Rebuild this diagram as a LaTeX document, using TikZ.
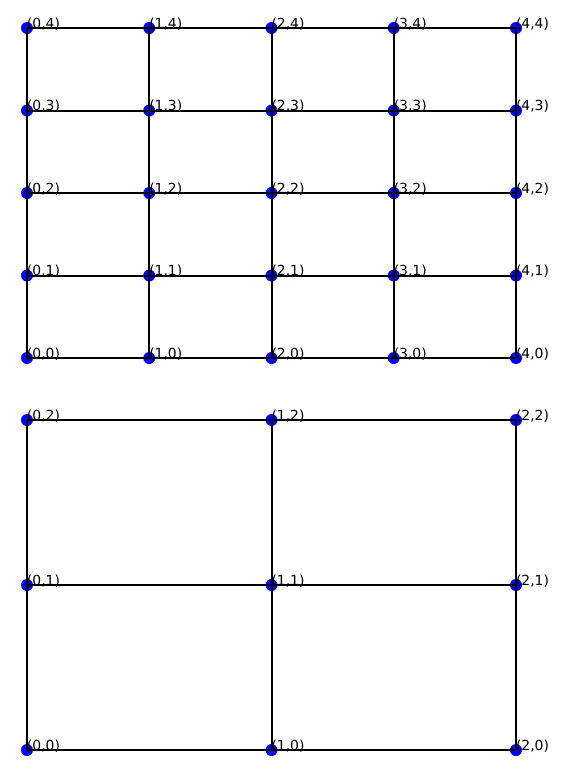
\documentclass[tikz,border=0pt]{standalone}
\usepackage{fontspec}
\setmainfont{DejaVu Sans}
\begin{document}
\begin{tikzpicture}[x=1pt,y=-1pt,
  dot/.style={circle,fill=blue,draw=none,minimum size=12pt,inner sep=0pt},
  edge/.style={line width=2pt,black},
  lbl/.style={anchor=base west,inner sep=0pt,outer sep=0pt,font=\fontsize{13.9}{16}\selectfont}]
\useasboundingbox (0,0) rectangle (562,769);
% top grid nodes
\foreach \i in {0,...,4} \foreach \j in {0,...,4} {
  \node[dot] (t\i\j) at ({27+122.25*\i},{358-82.5*\j}) {};
}
% bottom grid nodes
\foreach \i in {0,...,2} \foreach \j in {0,...,2} {
  \node[dot] (b\i\j) at ({27+244.5*\i},{750-165*\j}) {};
}
% top edges
\foreach \i in {0,...,3} \foreach \j in {0,...,4} {
  \pgfmathtruncatemacro{\k}{\i+1}
  \draw[edge] (t\i\j.center) -- (t\k\j.center);
}
\foreach \i in {0,...,4} \foreach \j in {0,...,3} {
  \pgfmathtruncatemacro{\k}{\j+1}
  \draw[edge] (t\i\j.center) -- (t\i\k.center);
}
% bottom edges
\foreach \i in {0,...,1} \foreach \j in {0,...,2} {
  \pgfmathtruncatemacro{\k}{\i+1}
  \draw[edge] (b\i\j.center) -- (b\k\j.center);
}
\foreach \i in {0,...,2} \foreach \j in {0,...,1} {
  \pgfmathtruncatemacro{\k}{\j+1}
  \draw[edge] (b\i\j.center) -- (b\i\k.center);
}
% labels
\foreach \i in {0,...,4} \foreach \j in {0,...,4} {
  \node[lbl] (tl\i\j) at (t\i\j.center) {(\i,\j)};
}
\foreach \i in {0,...,2} \foreach \j in {0,...,2} {
  \node[lbl] (bl\i\j) at (b\i\j.center) {(\i,\j)};
}
\end{tikzpicture}
\end{document}
